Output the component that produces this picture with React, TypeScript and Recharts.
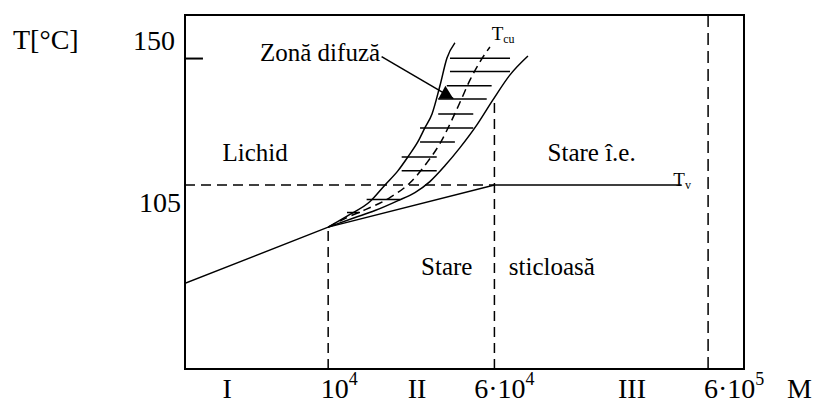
import React from 'react';
import { LineChart, Line, XAxis, YAxis, ReferenceLine, ReferenceArea, ReferenceDot, Label } from 'recharts';

// x = lg M (molar mass, log scale), y = T in °C
const X_DOMAIN: [number, number] = [3.33, 5.946];
const Y_DOMAIN: [number, number] = [39.5, 165.5];

// bottom axis: molar mass marks and the three regions
const M_TICK_LGM = [4, 4.778, 5.778];
const M_TICK_PREFIX = ['', '6·', '6·'];
const M_TICK_EXP = ['4', '4', '5'];
const REGION_LGM = [3.527, 4.416, 5.422];
const REGION_NAMES = ['I', 'II', 'III'];

const T_TICKS = [105, 150];

// Tv line: glass transition, then flat at 105 °C
const TV_LINE = [
  { lgM: 3.33, T: 70 },
  { lgM: 4, T: 90 },
  { lgM: 4.778, T: 105 },
  { lgM: 5.654, T: 105 },
];

// left edge of the diffuse zone (liquid side)
const LIQUID_EDGE = [
  { lgM: 4, T: 90 },
  { lgM: 4.102, T: 94.5 },
  { lgM: 4.196, T: 99.1 },
  { lgM: 4.266, T: 105 },
  { lgM: 4.327, T: 110.1 },
  { lgM: 4.374, T: 115.1 },
  { lgM: 4.42, T: 120.4 },
  { lgM: 4.453, T: 125.4 },
  { lgM: 4.486, T: 130.3 },
  { lgM: 4.523, T: 140.3 },
  { lgM: 4.556, T: 150.2 },
  { lgM: 4.593, T: 155.6 },
];

// Tcu (dashed, middle of the zone)
const TCU_CURVE = [
  { lgM: 4, T: 90 },
  { lgM: 4.088, T: 93.4 },
  { lgM: 4.177, T: 96.3 },
  { lgM: 4.289, T: 100.5 },
  { lgM: 4.383, T: 105.8 },
  { lgM: 4.462, T: 112.9 },
  { lgM: 4.528, T: 120.4 },
  { lgM: 4.575, T: 127.5 },
  { lgM: 4.622, T: 135.3 },
  { lgM: 4.664, T: 142.4 },
  { lgM: 4.71, T: 148.8 },
  { lgM: 4.757, T: 154.1 },
];

// right edge of the diffuse zone
const HE_EDGE = [
  { lgM: 4, T: 90 },
  { lgM: 4.126, T: 93.4 },
  { lgM: 4.219, T: 95.9 },
  { lgM: 4.327, T: 99.45 },
  { lgM: 4.406, T: 102.3 },
  { lgM: 4.476, T: 106.2 },
  { lgM: 4.547, T: 111.9 },
  { lgM: 4.617, T: 118.3 },
  { lgM: 4.696, T: 126.4 },
  { lgM: 4.771, T: 135.3 },
  { lgM: 4.851, T: 144.2 },
  { lgM: 4.935, T: 150.9 },
];

// hatching inside the zone
const HATCH_T = [150.1, 145.4, 140.3, 135.6, 130.3, 125.3, 120.3, 115.0, 110.1, 99.8, 95.2];
const HATCH_FROM = [4.57, 4.57, 4.555, 4.515, 4.515, 4.43, 4.43, 4.344, 4.344, 4.18, 4.088];
const HATCH_TO = [4.851, 4.851, 4.765, 4.742, 4.679, 4.679, 4.593, 4.508, 4.508, 4.336, 4.149];

const ARROW = [
  { lgM: 4.25, T: 150.7 },
  { lgM: 4.586, T: 135.7 },
];

const AREA_TEXT = ['Lichid', 'Stare î.e.', 'Stare', 'sticloasă', 'Zonă difuză'];
const AREA_LGM = [3.658, 5.233, 4.555, 5.047, 3.962];
const AREA_T = [113.4, 113.6, 72.8, 73, 149.2];

const FONT = "'Liberation Serif', 'Times New Roman', serif";
const INK = '#000';
const FRAME = { stroke: INK, strokeWidth: 2 };

const XTick = (props: any) => {
  const { x, y, payload } = props;
  const v = payload.value;
  const r = REGION_LGM.indexOf(v);
  if (r >= 0) {
    return (
      <text x={x} y={y} dy={21} textAnchor="middle" fontFamily={FONT} fontSize={28} fill={INK}>
        {REGION_NAMES[r]}
      </text>
    );
  }
  const i = M_TICK_LGM.indexOf(v);
  const shift = [11, 10, 26][i] || 0;
  return (
    <text x={x + shift} y={y} dy={21} textAnchor="middle" fontFamily={FONT} fontSize={28} fill={INK}>
      {M_TICK_PREFIX[i]}10
      <tspan dy={-13} fontSize={18}>{M_TICK_EXP[i]}</tspan>
    </text>
  );
};

const YTick = (props: any) => {
  const { x, y, payload } = props;
  const off = payload.value === 150 ? { dx: -2, dy: -9 } : { dx: 4, dy: 27 };
  return (
    <text x={x + off.dx} y={y + off.dy} textAnchor="end" fontFamily={FONT} fontSize={28} fill={INK}>
      {payload.value}
    </text>
  );
};

const ArrowHead = (props: any) => {
  const { cx, cy, index } = props;
  if (index !== ARROW.length - 1) return <g key={`a-${index}`} />;
  return (
    <polygon key={`a-${index}`} points={`${cx},${cy} ${cx - 15},${cy} ${cx - 8},${cy - 13}`} fill={INK} />
  );
};

const SubLabel = (main: string, sub: string) => (p: any) => (
  <text x={p.cx} y={p.cy} fontFamily={FONT} fontSize={19} fill={INK}>
    {main}
    <tspan dy={3} fontSize={12}>{sub}</tspan>
  </text>
);

export default function App() {
  return (
    <div style={{ position: 'absolute', left: 0, top: 0, width: 821, height: 410, background: '#fff' }}>
      <LineChart width={821} height={410} margin={{ top: 15, right: 77, bottom: 0, left: 0 }}>
        <XAxis
          type="number"
          dataKey="lgM"
          domain={X_DOMAIN}
          allowDataOverflow
          ticks={[...REGION_LGM, ...M_TICK_LGM].sort((a, b) => a - b)}
          interval={0}
          height={41}
          axisLine={FRAME}
          tickLine={false}
          tick={<XTick />}
        >
          <Label
            content={(p: any) => (
              <text x={p.viewBox.x + p.viewBox.width + 43} y={p.viewBox.y + 29} fontFamily={FONT} fontSize={28} fill={INK}>
                M
              </text>
            )}
          />
        </XAxis>
        <YAxis
          type="number"
          domain={Y_DOMAIN}
          allowDataOverflow
          ticks={T_TICKS}
          width={185}
          axisLine={FRAME}
          tickLine={false}
          tick={<YTick />}
        >
          <Label
            content={(p: any) => (
              <text x={p.viewBox.x + 13} y={p.viewBox.y + 34} fontFamily={FONT} fontSize={28} fill={INK}>
                T[°C]
              </text>
            )}
          />
        </YAxis>

        {/* frame top and right */}
        <ReferenceArea x1={X_DOMAIN[0]} x2={X_DOMAIN[1]} y1={Y_DOMAIN[0]} y2={Y_DOMAIN[1]} fill="none" stroke={INK} strokeWidth={2} />
        <ReferenceLine segment={[{ x: X_DOMAIN[0], y: 150 }, { x: 3.414, y: 150 }]} stroke={INK} strokeWidth={2} />

        {/* dashed guides */}
        <ReferenceLine segment={[{ x: X_DOMAIN[0], y: 105 }, { x: 4.778, y: 105 }]} stroke={INK} strokeWidth={1.5} strokeDasharray="10 6" />
        <ReferenceLine segment={[{ x: 4, y: Y_DOMAIN[0] }, { x: 4, y: 90 }]} stroke={INK} strokeWidth={1.5} strokeDasharray="10 6" />
        <ReferenceLine segment={[{ x: 4.778, y: Y_DOMAIN[0] }, { x: 4.778, y: 135.3 }]} stroke={INK} strokeWidth={1.5} strokeDasharray="10 6" />
        <ReferenceLine segment={[{ x: 5.778, y: Y_DOMAIN[0] }, { x: 5.778, y: Y_DOMAIN[1] }]} stroke={INK} strokeWidth={1.5} strokeDasharray="12 6" />

        {HATCH_T.map((t, i) => (
          <ReferenceLine key={`h-${i}`} segment={[{ x: HATCH_FROM[i], y: t }, { x: HATCH_TO[i], y: t }]} stroke={INK} strokeWidth={1.5} />
        ))}

        <Line data={TV_LINE} dataKey="T" type="linear" stroke={INK} strokeWidth={1.5} dot={false} activeDot={false} isAnimationActive={false} />
        <Line data={LIQUID_EDGE} dataKey="T" type="monotone" stroke={INK} strokeWidth={1.5} dot={false} activeDot={false} isAnimationActive={false} />
        <Line data={TCU_CURVE} dataKey="T" type="monotone" stroke={INK} strokeWidth={1.5} strokeDasharray="8 5" dot={false} activeDot={false} isAnimationActive={false} />
        <Line data={HE_EDGE} dataKey="T" type="monotone" stroke={INK} strokeWidth={1.5} dot={false} activeDot={false} isAnimationActive={false} />
        <Line data={ARROW} dataKey="T" type="linear" stroke={INK} strokeWidth={1.5} dot={<ArrowHead />} activeDot={false} isAnimationActive={false} />

        {AREA_TEXT.map((s, i) => (
          <ReferenceDot
            key={s}
            x={AREA_LGM[i]}
            y={AREA_T[i]}
            r={0}
            shape={(p: any) => (
              <text x={p.cx} y={p.cy} textAnchor="middle" fontFamily={FONT} fontSize={25} fill={INK}>
                {s}
              </text>
            )}
          />
        ))}
        <ReferenceDot x={4.765} y={156.6} r={0} shape={SubLabel('T', 'cu')} />
        <ReferenceDot x={5.615} y={104.8} r={0} shape={SubLabel('T', 'v')} />
      </LineChart>
    </div>
  );
}
